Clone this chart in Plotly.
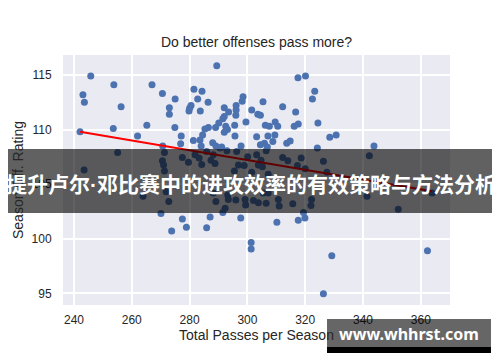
import plotly.graph_objects as go

# Total passes per season (x) and season offensive rating (y)
passes = [
    245.8, 253.8, 243.1, 243.6, 256.3, 267.0, 270.6, 275.0, 273.0, 273.0,
    242.1, 253.6, 265.2, 262.0, 274.9, 277.1, 270.7, 276.9,
    289.4, 281.5, 284.3, 282.8, 286.4, 280.5, 280.0, 279.8, 283.7, 298.5,
    298.2, 296.1, 296.1, 296.0, 292.0, 293.5, 292.0, 291.5, 290.1, 289.0,
    292.5, 293.1, 292.0, 295.6, 295.7, 301.5, 303.6, 304.5, 305.4, 299.5,
    286.5, 285.3, 284.5, 283.6, 281.3, 288.0, 289.1, 284.0, 291.1, 297.8,
    303.2, 304.5, 305.9, 306.2,
    317.5, 320.1, 323.3, 322.5, 312.2, 316.7, 307.6, 309.6, 310.5, 316.2,
    317.6, 324.4, 307.1, 309.5, 308.8, 306.9, 313.6, 314.8, 328.5, 330.7,
    324.2,
    343.8, 342.2, 341.4, 352.2, 363.9, 362.3,
    277.5, 278.9, 273.8, 285.9, 287.1, 291.5, 297.7, 301.3, 301.3, 310.2,
    317.6, 319.9, 329.2, 326.3, 270.1, 319.4,
    255.1, 243.5, 271.3, 270.6, 271.0, 271.3, 277.5, 279.6, 263.9, 271.9,
    272.8, 281.9, 283.3, 287.4, 288.8, 292.9, 296.3, 300.1, 303.2, 304.7,
    301.5, 298.9, 296.9, 295.5, 303.8, 305.2, 289.1, 293.4, 296.0, 299.2,
    299.4, 302.1, 303.8, 292.3, 285.9, 288.2, 290.5, 284.2, 288.2, 293.2,
    306.5, 314.0, 318.6, 326.3, 317.3, 320.0, 307.2, 305.5, 307.2, 310.7,
    315.7, 311.0, 306.5, 322.2, 322.0, 327.5, 312.2,
]
off_rating = [
    114.9, 114.1, 113.2, 112.5, 112.1, 114.1, 113.3, 112.8, 112.0, 111.4,
    109.8, 110.1, 110.4, 109.4, 110.2, 109.4, 108.5, 108.7,
    115.85, 113.7, 113.5, 112.8, 112.5, 112.2, 111.95, 111.7, 111.7, 113.0,
    112.6, 112.2, 111.8, 111.3, 112.0, 111.6, 111.2, 111.0, 110.6, 110.2,
    110.3, 110.0, 109.75, 110.4, 109.4, 111.8, 111.4, 111.3, 112.55, 110.7,
    110.2, 110.05, 109.5, 109.05, 109.0, 108.8, 108.5, 108.5, 108.4, 108.5,
    109.35, 108.6, 108.75, 110.4,
    114.75, 114.9, 113.5, 112.8, 112.1, 111.6, 110.3, 110.7, 110.3, 110.3,
    110.5, 110.6, 109.4, 109.5, 108.9, 108.4, 108.75, 108.95, 109.3, 109.5,
    108.3,
    108.5, 107.6, 103.9, 102.7, 104.2, 98.9,
    101.8, 101.05, 100.7, 101.0, 102.0, 102.4, 101.9, 99.65, 99.05, 101.5,
    101.7, 101.9, 98.45, 94.97, 102.3, 102.4,
    107.9, 106.3, 107.9, 107.15, 106.75, 106.2, 107.45, 107.0, 103.9, 104.3,
    103.4, 107.7, 107.4, 107.2, 106.9, 108.05, 108.0, 107.5, 107.7, 107.2,
    106.1, 106.7, 106.75, 106.2, 106.75, 106.6, 103.4, 103.6, 103.55, 103.6,
    103.1, 103.5, 103.3, 102.8, 108.0, 107.7, 108.3, 106.8, 104.2, 104.0,
    108.05, 107.15, 107.4, 107.1, 106.7, 106.4, 105.9, 104.2, 104.2, 103.6,
    103.2, 103.0, 103.25, 103.6, 103.05, 106.1, 107.45,
]

# Fitted regression line end points
fit_x = [242.1, 363.9]
fit_y = [109.8, 104.35]

x_ticks = [240, 260, 280, 300, 320, 340, 360]
y_ticks = [95, 100, 105, 110, 115]

chart_title = "Do better offenses pass more?"
x_title = "Total Passes per Season"
y_title = "Season Off. Rating"
banner_left = "提升卢尔"
banner_dot = "·"
banner_right = "邓比赛中的进攻效率的有效策略与方法分析"
watermark_text = "www.whhrst.com"

fig = go.Figure()
fig.add_trace(go.Scatter(
    x=passes, y=off_rating, mode="markers",
    marker=dict(color="#4C72B0", size=7, line=dict(width=0)),
    showlegend=False, hoverinfo="skip",
))
fig.add_trace(go.Scatter(
    x=fit_x, y=fit_y, mode="lines",
    line=dict(color="#FF0000", width=2),
    showlegend=False, hoverinfo="skip",
))

font_main = "Liberation Sans, Arial, sans-serif"

fig.update_layout(
    width=500, height=362,
    margin=dict(l=55, r=58, t=47, b=65),
    paper_bgcolor="white",
    plot_bgcolor="#EAEAF2",
    font=dict(family=font_main, color="#262626", size=12),
    title=dict(text=chart_title, x=0.5, xref="paper", xanchor="center",
               y=1 - 34 / 362, yanchor="middle",
               font=dict(size=14, color="#262626", family=font_main)),
    xaxis=dict(range=[236.2, 370.1], tickvals=x_ticks, automargin=False,
               showgrid=True, gridcolor="white", gridwidth=1.5,
               zeroline=False, showline=False,
               ticks="outside", ticklen=4, tickcolor="rgba(0,0,0,0)",
               tickfont=dict(size=12, color="#262626"),
               title=dict(text=x_title, font=dict(size=14, color="#262626"),
                          standoff=2)),
    yaxis=dict(range=[93.93, 116.83], tickvals=y_ticks, automargin=False,
               showgrid=True, gridcolor="white", gridwidth=1.5,
               zeroline=False, showline=False,
               ticks="outside", ticklen=8, tickcolor="rgba(0,0,0,0)",
               tickfont=dict(size=12, color="#262626"),
               title=dict(text=y_title, font=dict(size=14, color="#262626"),
                          standoff=4)),
)

# Banner overlay
fig.add_shape(type="rect", xref="paper", yref="paper",
              x0=-0.1525, x1=1.1214, y0=0.368, y1=0.624,
              fillcolor="rgba(0,0,0,0.62)", line=dict(width=0), layer="above")
fig.add_annotation(
    text=banner_left + '<span style="font-family:Liberation Sans">' + banner_dot
         + '</span>' + banner_right,
    xref="paper", yref="paper",
    x=0.4845, y=0.49, xanchor="center", yanchor="middle",
    showarrow=False,
    font=dict(size=21, color="white",
              family="Noto Sans CJK SC, sans-serif", weight="bold"))

# Watermark
fig.add_shape(type="rect", xref="paper", yref="paper",
              x0=0.6822, x1=1.1059, y0=-0.168, y1=-0.056,
              fillcolor="rgba(0,0,0,0.6)", line=dict(width=0), layer="above")
fig.add_shape(type="rect", xref="paper", yref="paper",
              x0=0.6822, x1=1.1059, y0=-0.192, y1=-0.168,
              fillcolor="black", line=dict(width=0), layer="above")
fig.add_annotation(text=watermark_text, xref="paper", yref="paper",
                   x=0.8935, y=-0.115, xanchor="center", yanchor="middle",
                   showarrow=False,
                   font=dict(size=16, color="white",
                             family="Noto Sans, DejaVu Sans, sans-serif", weight="bold"))

fig.write_html("out.html")
